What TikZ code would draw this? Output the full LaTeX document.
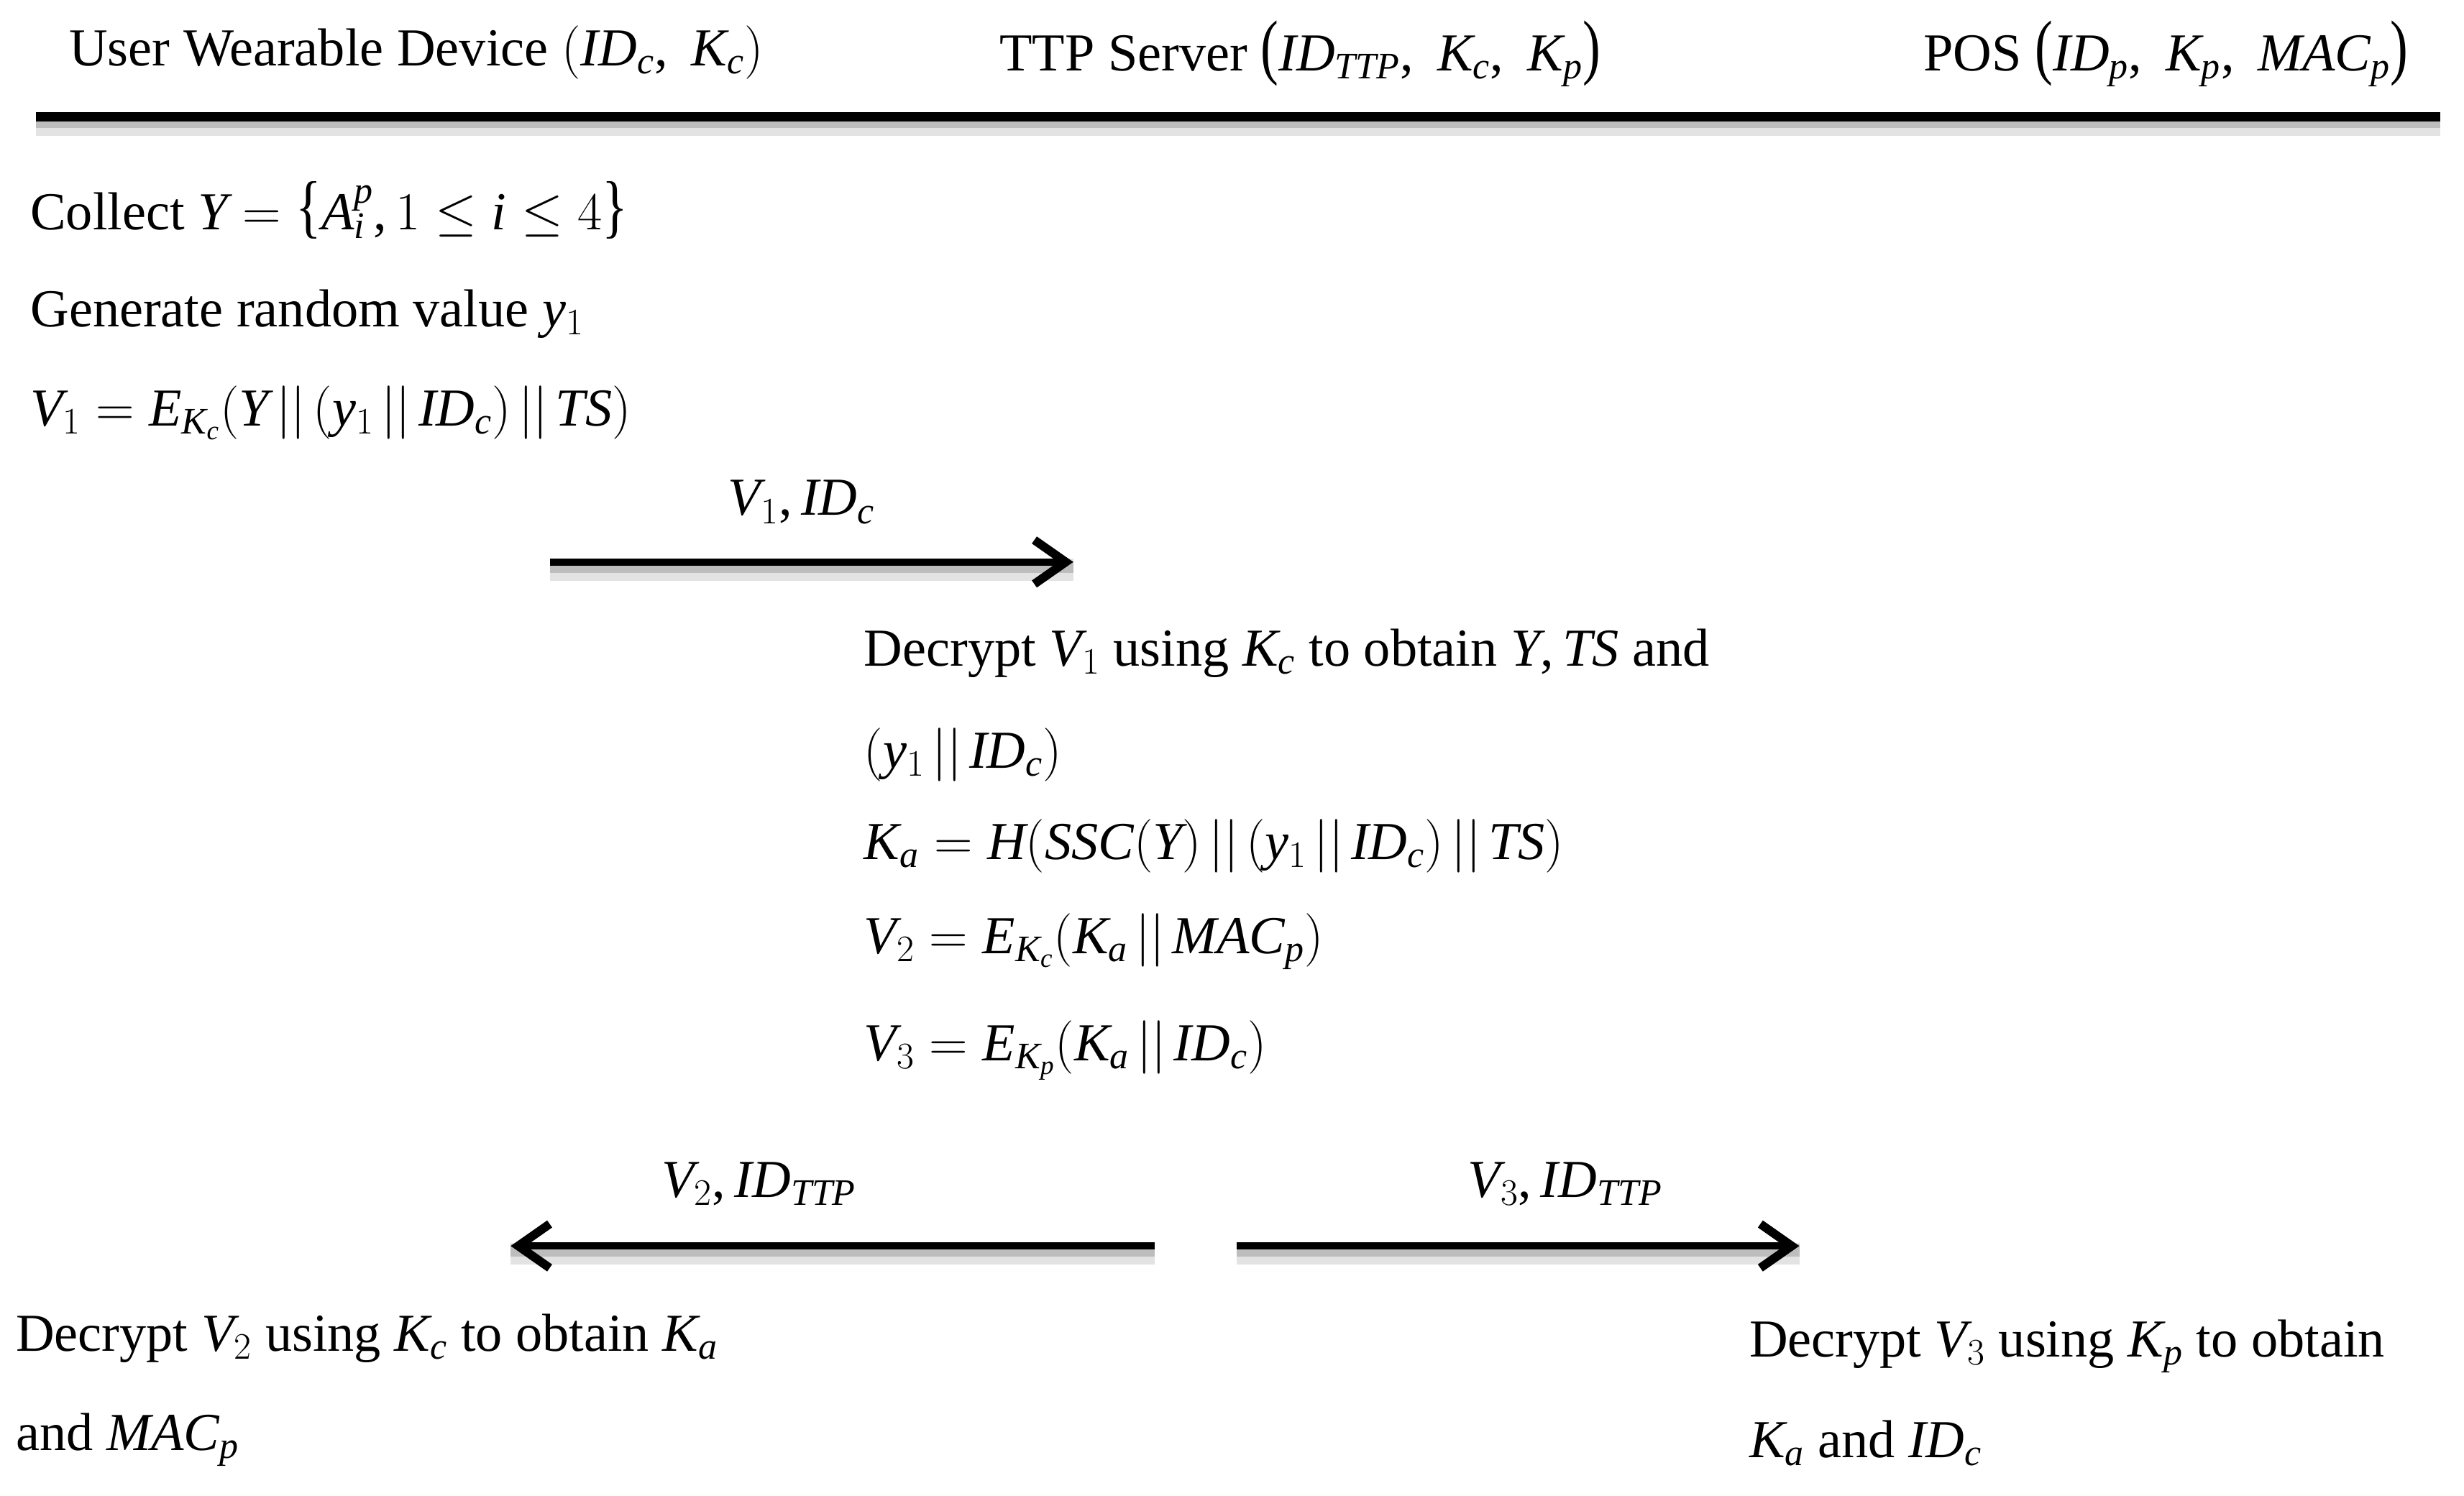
\RequirePackage{fix-cm}
\documentclass[tikz,border=0pt]{standalone}
\usepackage{fontspec}
\usepackage{graphicx}
\setmainfont[NFSSFamily=libser]{Liberation Serif}
\usetikzlibrary{arrows.meta}
\DeclareSymbolFont{txtit}{TU}{libser}{m}{it}
\DeclareSymbolFont{txtrm}{TU}{libser}{m}{n}
\makeatletter
\count@=`A
\loop \mathcode\count@=\numexpr "7000+\symtxtit*"100+\count@\relax
\ifnum\count@<`Z \advance\count@\@ne \repeat
\count@=`a
\loop \mathcode\count@=\numexpr "7000+\symtxtit*"100+\count@\relax
\ifnum\count@<`z \advance\count@\@ne \repeat
\count@=`0
\loop \mathcode\count@=\numexpr "7000+\symtxtrm*"100+\count@\relax
\ifnum\count@<`9 \advance\count@\@ne \repeat
\mathcode`,=\numexpr "6000+\symtxtrm*"100+`,\relax
\mathcode`(=\numexpr "4000+\symtxtrm*"100+`(\relax
\mathcode`)=\numexpr "5000+\symtxtrm*"100+`)\relax
\makeatother
\newcommand{\cc}{\mskip2.5mu||\mskip2.5mu}
\newcommand{\tpl}{\mathopen{\scalebox{1}[1.35]{(}}}
\newcommand{\tpr}{\mathclose{\scalebox{1}[1.35]{)}}}
\newcommand{\tbl}{\mathopen{\scalebox{1}[1.3]{\{}}}
\newcommand{\tbr}{\mathclose{\scalebox{1}[1.3]{\}}}}
\tikzset{
  txt/.style={anchor=base west, inner sep=0pt, font=\fontsize{34}{40}\selectfont},
  lbl/.style={anchor=base, inner sep=0pt, font=\fontsize{34}{40}\selectfont},
  msg/.style={line width=4.5pt, -{Straight Barb[length=20pt,width=28pt,line width=5.5pt]}},
  shadowA/.style={line width=14pt, black!11},
  shadowB/.style={line width=8pt, black!26},
  rule/.style={line width=6pt}
}
\begin{document}
\begin{tikzpicture}[x=1pt,y=-1pt]
\useasboundingbox (0,0) rectangle (1568,952.1);
% headers
\node[txt] (hu) at (43.8,41.7) {User Wearable Device $(ID_c,\; K_c)$};
\node[txt] (ht) at (636,45) {TTP Server $\tpl ID_{TTP},\; K_c,\; K_p\tpr$};
\node[txt] (hp) at (1224,45) {POS $\tpl ID_p,\; K_p,\; MAC_p\tpr$};
% header rule
\coordinate (hl) at (22.7,74.4);
\coordinate (hr) at (1553,74.4);
\draw[shadowA] ([yshift=-5pt]hl) -- ([yshift=-5pt]hr);
\draw[shadowB] ([yshift=-3pt]hl) -- ([yshift=-3pt]hr);
\draw[rule] (hl) -- (hr);
% user side
\node[txt] (u1) at (19.2,146) {Collect $Y = \tbl A_i^p, 1 \leq i \leq 4\tbr$};
\node[txt] (u2) at (19.2,208) {Generate random value $y_1$};
\node[txt] (u3) at (19.2,271) {$V_1 = E_{K_c}(Y\cc(y_1\cc ID_c)\cc TS)$};
% message 1
\node[lbl] (m1) at (510,328) {$V_1, ID_c$};
\coordinate (a1s) at (350,357.7);
\coordinate (a1e) at (683,357.7);
\draw[shadowA] ([yshift=-5pt]a1s) -- ([yshift=-5pt]a1e);
\draw[shadowB] ([yshift=-3pt]a1s) -- ([yshift=-3pt]a1e);
\draw[msg] (a1s) -- (a1e);
% server side
\node[txt] (s1) at (549.7,424) {Decrypt $V_1$ using $K_c$ to obtain $Y, TS$ and};
\node[txt] (s2) at (549.7,488.7) {$(y_1\cc ID_c)$};
\node[txt] (s3) at (549.7,546.8) {$K_a = H(SSC(Y)\cc(y_1\cc ID_c)\cc TS)$};
\node[txt] (s4) at (549.7,606.9) {$V_2 = E_{K_c}(K_a\cc MAC_p)$};
\node[txt] (s5) at (549.7,675) {$V_3 = E_{K_p}(K_a\cc ID_c)$};
% messages 2 and 3
\node[lbl] (m2) at (483,762) {$V_2, ID_{TTP}$};
\node[lbl] (m3) at (996,762) {$V_3, ID_{TTP}$};
\coordinate (a2s) at (735,793);
\coordinate (a2e) at (325,793);
\coordinate (a3s) at (787,793);
\coordinate (a3e) at (1145,793);
\draw[shadowA] ([yshift=-5pt]a2s) -- ([yshift=-5pt]a2e);
\draw[shadowB] ([yshift=-3pt]a2s) -- ([yshift=-3pt]a2e);
\draw[shadowA] ([yshift=-5pt]a3s) -- ([yshift=-5pt]a3e);
\draw[shadowB] ([yshift=-3pt]a3s) -- ([yshift=-3pt]a3e);
\draw[msg] (a2s) -- (a2e);
\draw[msg] (a3s) -- (a3e);
% results
\node[txt] (r1) at (10,860) {Decrypt $V_2$ using $K_c$ to obtain $K_a$};
\node[txt] (r2) at (10,923) {and $MAC_p$};
\node[txt] (r3) at (1113,863.5) {Decrypt $V_3$ using $K_p$ to obtain};
\node[txt] (r4) at (1113,927.6) {$K_a$ and $ID_c$};
\end{tikzpicture}
\end{document}
